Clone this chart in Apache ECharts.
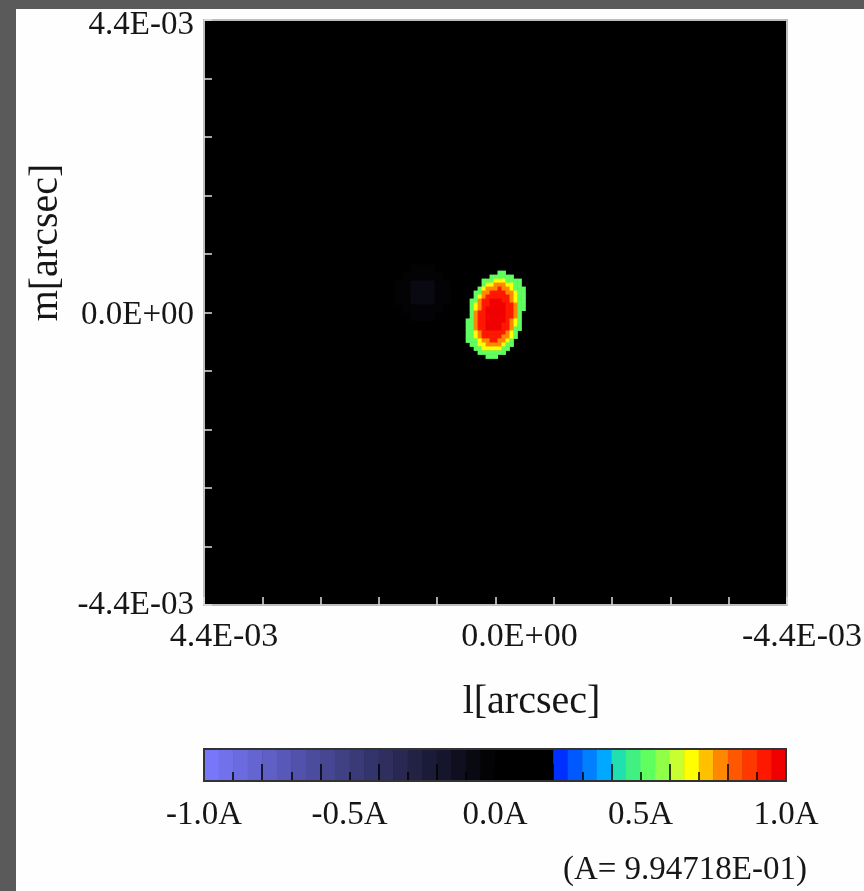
<!DOCTYPE html>
<html>
<head>
<meta charset="utf-8">
<script src="https://cdn.jsdelivr.net/npm/echarts@6/dist/echarts.min.js"></script>
<style>
  html, body { margin: 0; padding: 0; background: #5a5a5a; }
  #chart { position: absolute; left: 16px; top: 9px; width: 848px; height: 882px; }
</style>
</head>
<body>
<div id="chart"></div>
<script>
// axis units are 1e-5 arcsec
const xTickValues = [440, 0, -440];
const xTickLabels = ['4.4E-03', '0.0E+00', '-4.4E-03'];
const yTickValues = [440, 0, -440];
const yTickLabels = ['4.4E-03', '0.0E+00', '-4.4E-03'];

// colour bar
const cbarLabelValues = [-1, -0.5, 0, 0.5, 1];
const cbarLabels = ['-1.0A', '-0.5A', '0.0A', '0.5A', '1.0A'];
const cbarMajorTicks = [-0.8, -0.6, -0.4, -0.2, 0, 0.2, 0.4, 0.6, 0.8];
const cbarMinorTicks = [-0.9, -0.7, -0.5, -0.3, -0.1, 0.1, 0.3, 0.5, 0.7, 0.9];
// 40 steps of 0.05A, from -1.0A to 1.0A
const cbarColors = [
  '#7777f9', '#7171ec', '#6b6bdf', '#6565d2', '#5f5fc6', '#5858b9', '#5252ac', '#4c4c9f', '#464692', '#404085',
  '#3a3a79', '#34346c', '#2e2e5f', '#282852', '#222245', '#1b1b39', '#15152c', '#0f0f1f', '#090912', '#030306',
  '#000000', '#000000', '#000000', '#000000', '#0030ff', '#0058ff', '#0080ff', '#00a8ff', '#20e0b0', '#40f080',
  '#60ff60', '#90ff48', '#c8ff30', '#ffff00', '#ffc000', '#ff8800', '#ff5800', '#ff3800', '#ff1800', '#f00000'
];
const noteText = '(A= 9.94718E-01)';

// map levels (in units of A)
const levelValues = { '5': 0.5, '7': 0.68, '8': 0.78, '9': 0.9, 'a': 1.0, 'b': -0.03, 'c': -0.05, 'd': -0.07, 'e': -0.1 };

// main peak: columns go from x=54 downward in steps of 6, rows from y=60 downward
const peakX0 = 54, peakY0 = 60, peakStep = 6;
const peakRows = [
  '..........55.......',
  '........555555.....',
  '......5557775555...',
  '......5778887755...',
  '.....578889887555..',
  '....5588999988755..',
  '....5789999998755..',
  '...55899aaa998755..',
  '...57899aaaa99855..',
  '...5789aaaaa99855..',
  '...5899aaaaa9985...',
  '...5899aaaaa9985...',
  '..55899aaaaa9875...',
  '..55899aaaa99875...',
  '..55899aaaa99855...',
  '..5578999999875....',
  '..5578999998875....',
  '..555788998875.....',
  '...55778888755.....',
  '....557777755......',
  '.....5555555.......',
  '.......555.........'
];

// faint negative patch left of the peak
const ghostX0 = 146, ghostY0 = 66, ghostStep = 12;
const ghostRows = [
  '..bbb..',
  '.bcccb.',
  'bcdddcb',
  'bcdedcb',
  'bcdddcb',
  '.bcccb.',
  '..bbb..'
];

function colorOf(v) {
  var idx = Math.floor((v + 1) * 20 + 1e-9);
  idx = Math.max(0, Math.min(cbarColors.length - 1, idx));
  return cbarColors[idx];
}

function rowsToCells(rows, x0, y0, step) {
  var out = [];
  rows.forEach(function (row, i) {
    for (var c = 0; c < row.length; c++) {
      var ch = row[c];
      if (ch === '.') continue;
      out.push([x0 - c * step, y0 - i * step, levelValues[ch], step]);
    }
  });
  return out;
}

const cells = rowsToCells(ghostRows, ghostX0, ghostY0, ghostStep)
  .concat(rowsToCells(peakRows, peakX0, peakY0, peakStep));

const cbarBands = cbarColors.map(function (c, i) {
  return [-1 + i * 2 / cbarColors.length, -1 + (i + 1) * 2 / cbarColors.length, i];
});

const FONT = 'Liberation Serif, Times New Roman, serif';
const TXT = '#161616';
const xLabelStyle = { fontFamily: FONT, fontSize: 34, color: TXT };
const yLabelStyle = { fontFamily: FONT, fontSize: 33, color: TXT };

const chart = echarts.init(document.getElementById('chart'), null, { renderer: 'canvas' });

const plot = { left: 188, top: 11, width: 583, height: 585 };
const bar = { left: 188, top: 740, width: 582, height: 32 };

var option = {
  backgroundColor: '#fefefe',
  animation: false,
  grid: [
    {
      left: plot.left, top: plot.top, width: plot.width, height: plot.height,
      outerBoundsMode: 'none', containLabel: false,
      show: true, backgroundColor: '#000', borderColor: '#bdbdbd', borderWidth: 2
    },
    {
      left: bar.left, top: bar.top, width: bar.width, height: bar.height,
      outerBoundsMode: 'none', containLabel: false,
      show: true, backgroundColor: '#000', borderWidth: 0
    }
  ],
  xAxis: [
    {
      gridIndex: 0, type: 'value', min: -440, max: 440, interval: 88, inverse: true, z: 10,
      axisLine: { show: false, onZero: false },
      axisTick: { inside: true, length: 8, lineStyle: { color: '#e0e0e0', width: 1.5 } },
      splitLine: { show: false },
      axisLabel: {
        customValues: xTickValues,
        formatter: function (v) {
          var i = xTickValues.indexOf(v);
          return '{l' + i + '|' + xTickLabels[i] + '}';
        },
        margin: 15,
        rich: {
          l0: Object.assign({ padding: [0, 0, 0, 40] }, xLabelStyle),
          l1: Object.assign({ padding: [0, 0, 0, 48] }, xLabelStyle),
          l2: Object.assign({ padding: [0, 0, 0, 30] }, xLabelStyle)
        }
      },
      name: 'l[arcsec]', nameLocation: 'middle', nameGap: 77,
      nameTextStyle: { fontFamily: FONT, fontSize: 40, color: TXT, padding: [0, 0, 0, 72] }
    },
    {
      gridIndex: 1, type: 'value', min: -1, max: 1, position: 'bottom', z: 10,
      axisLine: { show: false, onZero: false },
      axisTick: { customValues: cbarMajorTicks, inside: true, length: 17, lineStyle: { color: '#000', width: 1.5 } },
      splitLine: { show: false },
      axisLabel: {
        customValues: cbarLabelValues,
        formatter: function (v) { return cbarLabels[cbarLabelValues.indexOf(v)]; },
        fontFamily: FONT, fontSize: 33, color: TXT, margin: 18
      }
    },
    {
      gridIndex: 1, type: 'value', min: -1, max: 1, position: 'bottom', offset: 0, z: 10,
      axisLine: { show: false, onZero: false },
      axisTick: { customValues: cbarMinorTicks, inside: true, length: 9, lineStyle: { color: '#000', width: 1.5 } },
      splitLine: { show: false },
      axisLabel: { show: false }
    }
  ],
  yAxis: [
    {
      gridIndex: 0, type: 'value', min: -440, max: 440, interval: 88, z: 10,
      axisLine: { show: false, onZero: false },
      axisTick: { inside: true, length: 8, lineStyle: { color: '#e0e0e0', width: 1.5 } },
      splitLine: { show: false },
      axisLabel: {
        customValues: yTickValues,
        formatter: function (v) {
          var i = yTickValues.indexOf(v);
          return '{m' + i + '|' + yTickLabels[i] + '}';
        },
        margin: 10,
        rich: {
          m0: Object.assign({ padding: [10, 0, 0, 0] }, yLabelStyle),
          m1: Object.assign({ padding: [6, 0, 0, 0] }, yLabelStyle),
          m2: Object.assign({ padding: [0, 0, 0, 0] }, yLabelStyle)
        }
      },
      name: 'm[arcsec]', nameLocation: 'middle', nameGap: 138, nameRotate: 90,
      nameTextStyle: { fontFamily: FONT, fontSize: 40, color: TXT, padding: [0, 0, 0, 140] }
    },
    {
      gridIndex: 1, type: 'value', min: 0, max: 1, show: false
    }
  ],
  graphic: [
    {
      type: 'rect', z: 100, silent: true,
      shape: { x: bar.left, y: bar.top, width: bar.width, height: bar.height },
      style: { fill: null, stroke: '#333', lineWidth: 2 }
    },
    {
      type: 'text', right: 848 - 791, top: 845,
      style: { text: noteText, fontFamily: FONT, fontSize: 33, fill: TXT }
    }
  ],
  series: [
    {
      type: 'custom', xAxisIndex: 0, yAxisIndex: 0,
      data: cells,
      renderItem: function (params, api) {
        var x = api.value(0), y = api.value(1), h = api.value(3) / 2;
        var a = api.coord([x + h, y + h]);
        var b = api.coord([x - h, y - h]);
        return {
          type: 'rect',
          shape: {
            x: Math.min(a[0], b[0]), y: Math.min(a[1], b[1]),
            width: Math.abs(b[0] - a[0]) + 0.5, height: Math.abs(b[1] - a[1]) + 0.5
          },
          style: { fill: colorOf(api.value(2)) }
        };
      }
    },
    {
      type: 'custom', xAxisIndex: 1, yAxisIndex: 1,
      data: cbarBands,
      encode: { x: [0, 1] },
      renderItem: function (params, api) {
        var p0 = api.coord([api.value(0), 1]);
        var p1 = api.coord([api.value(1), 0]);
        return {
          type: 'rect',
          shape: { x: p0[0], y: p0[1], width: p1[0] - p0[0] + 0.5, height: p1[1] - p0[1] },
          style: { fill: cbarColors[api.value(2)] }
        };
      }
    }
  ]
};

chart.setOption(option);
</script>
</body>
</html>
